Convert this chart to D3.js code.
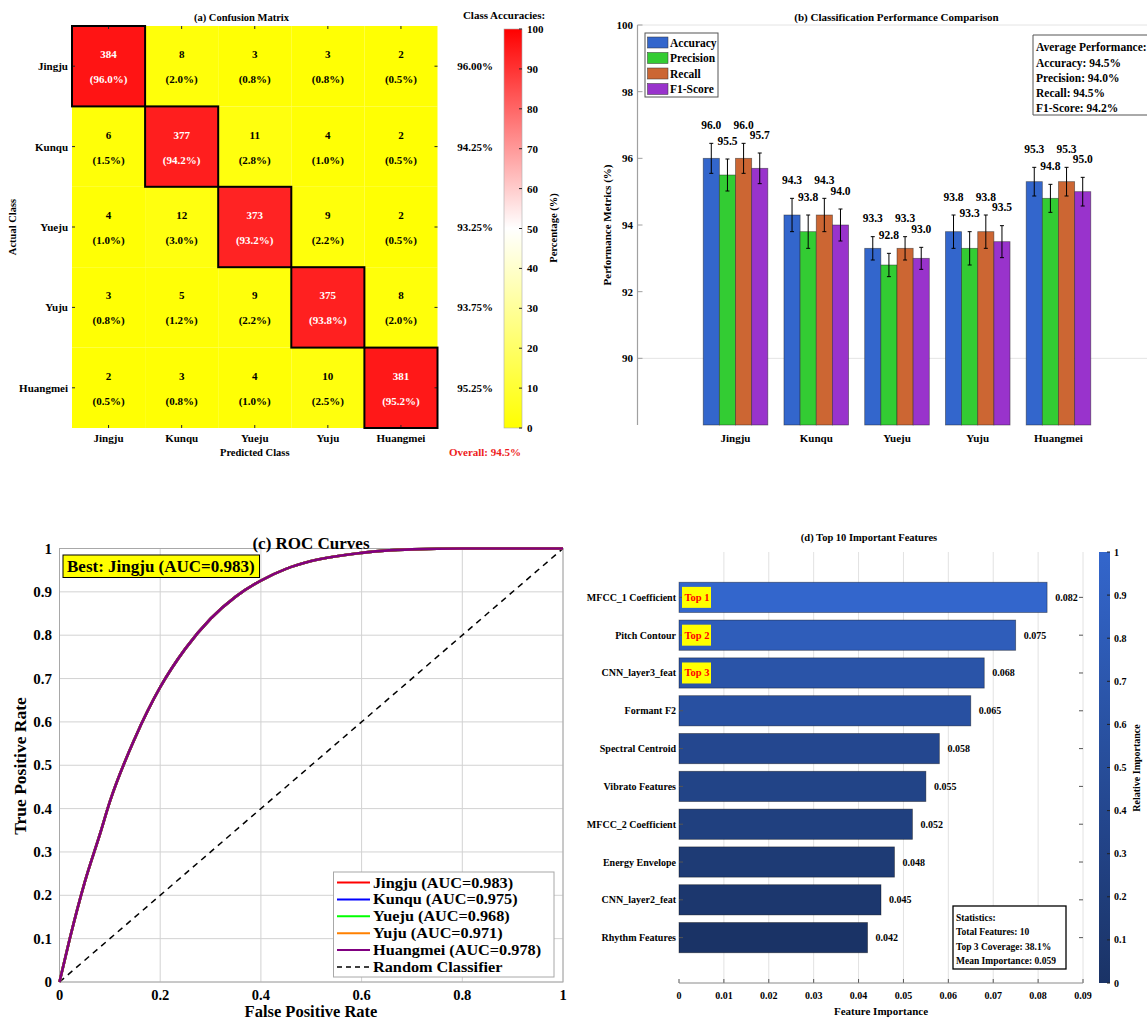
<!DOCTYPE html>
<html>
<head>
<meta charset="utf-8">
<script src="https://cdn.jsdelivr.net/npm/d3@7"></script>
<style>
  body { margin: 0; background: #fff; }
  svg text { font-family: "Liberation Serif", "Times New Roman", Times, serif; font-weight: bold; }
</style>
</head>
<body>
<svg id="chart" width="1147" height="1021"></svg>
<script>
// ---- data ----
const classes = ['Jingju', 'Kunqu', 'Yueju', 'Yuju', 'Huangmei'];

// (a) confusion matrix counts and row percentages
const confusionCounts = [
    [384, 8, 3, 3, 2],
    [6, 377, 11, 4, 2],
    [4, 12, 373, 9, 2],
    [3, 5, 9, 375, 8],
    [2, 3, 4, 10, 381]
];
const confusionPct = [
    [96.0, 2.0, 0.8, 0.8, 0.5],
    [1.5, 94.2, 2.8, 1.0, 0.5],
    [1.0, 3.0, 93.2, 2.2, 0.5],
    [0.8, 1.2, 2.2, 93.8, 2.0],
    [0.5, 0.8, 1.0, 2.5, 95.2]
];
const classAccuracies = [96.00, 94.25, 93.25, 93.75, 95.25];
const overallAccuracy = 94.5;
const colorbarTicks = [0, 10, 20, 30, 40, 50, 60, 70, 80, 90, 100];

// (b) per class metrics with error bars
const metricNames = ['Accuracy', 'Precision', 'Recall', 'F1-Score'];
const metricColors = ['#3366CC', '#33CC33', '#CC6633', '#9933CC'];
const accuracyVals = [96.0, 94.3, 93.3, 93.8, 95.3];
const precisionVals = [95.5, 93.8, 92.8, 93.3, 94.8];
const recallVals = [96.0, 94.3, 93.3, 93.8, 95.3];
const f1Vals = [95.7, 94.0, 93.0, 93.5, 95.0];
const accuracyErr = [0.45, 0.5, 0.35, 0.5, 0.43];
const precisionErr = [0.48, 0.5, 0.35, 0.5, 0.42];
const recallErr = [0.45, 0.5, 0.35, 0.5, 0.43];
const f1Err = [0.46, 0.48, 0.33, 0.48, 0.43];
const perfTicks = [90, 92, 94, 96, 98, 100];

// (c) ROC curves (all classes overlap almost exactly)
const aucValues = [0.983, 0.975, 0.968, 0.971, 0.978];
const rocColors = ['#FF0000', '#0000FF', '#00FF00', '#FF8000', '#800080'];
const rocFpr = [0, 0.02, 0.05, 0.08, 0.1, 0.15, 0.2, 0.25, 0.3, 0.35, 0.4, 0.45, 0.5, 0.6, 0.7, 0.8, 0.9, 1];
const rocTpr = [0, 0.098, 0.23, 0.34, 0.416, 0.563, 0.68, 0.769, 0.838, 0.889, 0.926, 0.953, 0.971, 0.99, 0.998, 1, 1, 1];

// (d) feature importance
const featureNames = ['MFCC_1 Coefficient', 'Pitch Contour', 'CNN_layer3_feat', 'Formant F2', 'Spectral Centroid',
    'Vibrato Features', 'MFCC_2 Coefficient', 'Energy Envelope', 'CNN_layer2_feat', 'Rhythm Features'];
const featureValues = [0.082, 0.075, 0.068, 0.065, 0.058, 0.055, 0.052, 0.048, 0.045, 0.042];
const importanceTicks = [0, 0.01, 0.02, 0.03, 0.04, 0.05, 0.06, 0.07, 0.08, 0.09];
const relTicks = [0, 0.1, 0.2, 0.3, 0.4, 0.5, 0.6, 0.7, 0.8, 0.9, 1];

const svg = d3.select('#chart');
const defs = svg.append('defs');

// small helper for text
function label(parent, x, y, str, size, anchor, fill) {
    return parent.append('text')
        .attr('x', x).attr('y', y)
        .attr('text-anchor', anchor || 'middle')
        .attr('dominant-baseline', 'central')
        .attr('font-size', size + 'px')
        .attr('fill', fill || '#000')
        .text(str);
}

function rotatedLabel(parent, x, y, str, size) {
    return parent.append('text')
        .attr('transform', `translate(${x},${y}) rotate(-90)`)
        .attr('text-anchor', 'middle')
        .attr('dominant-baseline', 'central')
        .attr('font-size', size + 'px')
        .text(str);
}

// ===== (a) Confusion Matrix =====
function drawConfusion() {
    const g = svg.append('g');
    const x = d3.scaleBand().domain(classes).range([72, 437.5]);
    const y = d3.scaleBand().domain(classes).range([26, 428]);
    const color = d3.scaleLinear().domain([0, 50, 100]).range(['#ffff00', '#ffffff', '#ff0000']);

    const cells = [];
    confusionCounts.forEach((row, i) => row.forEach((n, j) => {
        cells.push({ r: classes[i], c: classes[j], n: n, p: confusionPct[i][j], diag: i === j });
    }));

    g.selectAll('.cell').data(cells).join('rect')
        .attr('class', 'cell')
        .attr('x', d => x(d.c)).attr('y', d => y(d.r))
        .attr('width', x.bandwidth()).attr('height', y.bandwidth())
        .attr('fill', d => color(d.p));

    // inward ticks
    const tk = g.append('g').attr('stroke', '#262626').attr('stroke-width', 1);
    classes.forEach(c => {
        const cx = x(c) + x.bandwidth() / 2, cy = y(c) + y.bandwidth() / 2;
        tk.append('line').attr('x1', 72).attr('x2', 75).attr('y1', cy).attr('y2', cy);
        tk.append('line').attr('x1', 437.5).attr('x2', 434.5).attr('y1', cy).attr('y2', cy);
        tk.append('line').attr('x1', cx).attr('x2', cx).attr('y1', 428).attr('y2', 425);
        tk.append('line').attr('x1', cx).attr('x2', cx).attr('y1', 26).attr('y2', 29);
    });

    g.selectAll('.diag').data(cells.filter(d => d.diag)).join('rect')
        .attr('class', 'diag')
        .attr('x', d => x(d.c)).attr('y', d => y(d.r))
        .attr('width', x.bandwidth()).attr('height', y.bandwidth())
        .attr('fill', 'none').attr('stroke', '#000').attr('stroke-width', 2);

    cells.forEach(d => {
        const cx = x(d.c) + x.bandwidth() / 2, cy = y(d.r) + y.bandwidth() / 2;
        const fill = d.diag ? '#fff' : '#000';
        label(g, cx, cy - 12, d.n, 11, 'middle', fill);
        label(g, cx, cy + 13, `(${d.p.toFixed(1)}%)`, 11, 'middle', fill);
    });

    classes.forEach((c, i) => {
        label(g, x(c) + x.bandwidth() / 2, 438, c, 11);
        label(g, 68, y(c) + y.bandwidth() / 2, c, 11, 'end');
        label(g, 475, y(c) + y.bandwidth() / 2, classAccuracies[i].toFixed(2) + '%', 11);
    });

    label(g, 241.5, 17, '(a) Confusion Matrix', 10.5);
    label(g, 254.75, 452, 'Predicted Class', 10.5);
    rotatedLabel(g, 12, 227, 'Actual Class', 10.5);
    label(g, 504, 15, 'Class Accuracies:', 11);
    label(g, 485, 452, 'Overall: ' + overallAccuracy.toFixed(1) + '%', 11, 'middle', '#ee1c1c');

    // colorbar
    const cy = d3.scaleLinear().domain([0, 100]).range([428, 29]);
    const grad = defs.append('linearGradient').attr('id', 'cmA')
        .attr('x1', 0).attr('y1', 1).attr('x2', 0).attr('y2', 0);
    grad.selectAll('stop').data(d3.range(0, 101, 5)).join('stop')
        .attr('offset', d => d + '%').attr('stop-color', d => color(d));
    g.append('rect').attr('x', 504).attr('y', 29).attr('width', 18).attr('height', 399)
        .attr('fill', 'url(#cmA)').attr('stroke', '#aaa').attr('stroke-width', 0.6);
    colorbarTicks.forEach(t => {
        g.append('line').attr('x1', 522).attr('x2', 519).attr('y1', cy(t)).attr('y2', cy(t))
            .attr('stroke', '#262626');
        label(g, 527, cy(t), t, 11, 'start');
    });
    rotatedLabel(g, 553, 228, 'Percentage (%)', 10.5);
}

// ===== (b) Classification Performance =====
function drawPerformance() {
    const g = svg.append('g');
    const series = [
        { vals: accuracyVals, err: accuracyErr },
        { vals: precisionVals, err: precisionErr },
        { vals: recallVals, err: recallErr },
        { vals: f1Vals, err: f1Err }
    ];
    const x = d3.scaleLinear().domain([-0.214, 6.214]).range([637.5, 1156.5]);
    const y = d3.scaleLinear().domain([88, 100]).range([425, 25]);
    const barW = 0.2;

    [90, 100].forEach(v => {
        g.append('line').attr('x1', 637.5).attr('x2', 1147).attr('y1', y(v)).attr('y2', y(v))
            .attr('stroke', '#e4e4e4').attr('stroke-width', 1);
    });
    g.append('line').attr('x1', 637.5).attr('x2', 637.5).attr('y1', y(88)).attr('y2', y(100))
        .attr('stroke', '#a0a0a0').attr('stroke-width', 1.2);
    perfTicks.forEach(t => {
        g.append('line').attr('x1', 637.5).attr('x2', 642.5).attr('y1', y(t)).attr('y2', y(t))
            .attr('stroke', '#a0a0a0');
        label(g, 633, y(t), t, 11, 'end');
    });

    series.forEach((s, k) => {
        const data = s.vals.map((v, i) => ({ v: v, e: s.err[i], pos: i + 1 + (k - 1.5) * barW }));
        g.selectAll('.bar' + k).data(data).join('rect')
            .attr('x', d => x(d.pos - barW / 2)).attr('width', x(barW) - x(0))
            .attr('y', d => y(d.v)).attr('height', d => y(88) - y(d.v))
            .attr('fill', metricColors[k])
            .attr('stroke', '#222').attr('stroke-opacity', 0.55).attr('stroke-width', 0.8);
        data.forEach(d => {
            const cx = x(d.pos);
            g.append('line').attr('x1', cx).attr('x2', cx).attr('y1', y(d.v - d.e)).attr('y2', y(d.v + d.e))
                .attr('stroke', '#000').attr('stroke-width', 1);
            [d.v - d.e, d.v + d.e].forEach(ev => {
                g.append('line').attr('x1', cx - 2).attr('x2', cx + 2).attr('y1', y(ev)).attr('y2', y(ev))
                    .attr('stroke', '#000').attr('stroke-width', 1);
            });
            label(g, cx, y(d.v + d.e + 0.55), d.v.toFixed(1), 11.5);
        });
    });

    classes.forEach((c, i) => label(g, x(i + 1), 438, c, 11));
    label(g, 896.5, 17, '(b) Classification Performance Comparison', 11);
    rotatedLabel(g, 607, 225, 'Performance Metrics (%)', 11);

    // legend
    g.append('rect').attr('x', 645).attr('y', 33).attr('width', 73).attr('height', 64)
        .attr('fill', '#fff').attr('stroke', '#555').attr('stroke-width', 1);
    metricNames.forEach((m, k) => {
        const ly = 42.5 + k * 15.5;
        g.append('rect').attr('x', 647.5).attr('y', ly - 5.5).attr('width', 20.5).attr('height', 11)
            .attr('fill', metricColors[k]).attr('stroke', '#333').attr('stroke-width', 0.5);
        label(g, 670, ly, m, 11.5, 'start');
    });

    // average performance box
    const means = series.map(s => d3.mean(s.vals));
    g.append('path').attr('d', 'M1147,35 H1033 V115 H1147')
        .attr('fill', '#fff').attr('stroke', '#555').attr('stroke-width', 1);
    label(g, 1036, 47.3, 'Average Performance:', 11.5, 'start');
    metricNames.forEach((m, k) => {
        label(g, 1036, 62.5 + k * 15.2, `${m}: ${means[k].toFixed(1)}%`, 11.5, 'start');
    });
}

// ===== (c) ROC Curves =====
function drawROC() {
    const g = svg.append('g');
    const x = d3.scaleLinear().domain([0, 1]).range([59.5, 563]);
    const y = d3.scaleLinear().domain([0, 1]).range([982, 548.5]);
    const fmt = d => (d === 0 || d === 1) ? String(d) : d.toFixed(1);

    x.ticks(5).forEach(t => {
        g.append('line').attr('x1', x(t)).attr('x2', x(t)).attr('y1', y(0)).attr('y2', y(1))
            .attr('stroke', '#d2d2d2').attr('stroke-width', 1);
        label(g, x(t), 995, fmt(t), 14.5);
    });
    y.ticks(10).forEach(t => {
        g.append('line').attr('x1', x(0)).attr('x2', x(1)).attr('y1', y(t)).attr('y2', y(t))
            .attr('stroke', '#d2d2d2').attr('stroke-width', 1);
        label(g, 52, y(t), fmt(t), 15, 'end');
    });
    g.append('rect').attr('x', x(0)).attr('y', y(1)).attr('width', x(1) - x(0)).attr('height', y(0) - y(1))
        .attr('fill', 'none').attr('stroke', '#a8a8a8').attr('stroke-width', 1);

    const line = d3.line().x(d => x(d[0])).y(d => y(d[1])).curve(d3.curveMonotoneX);
    const pts = rocFpr.map((f, i) => [f, rocTpr[i]]);
    g.append('path').attr('d', line([[0, 0], [1, 1]]))
        .attr('fill', 'none').attr('stroke', '#000').attr('stroke-width', 1.5).attr('stroke-dasharray', '6,5');
    classes.forEach((c, i) => {
        g.append('path').attr('d', line(pts))
            .attr('fill', 'none').attr('stroke', rocColors[i]).attr('stroke-width', 2.6);
    });

    label(g, 311, 543, '(c) ROC Curves', 17);
    label(g, 311, 1011, 'False Positive Rate', 16.5);
    rotatedLabel(g, 20, 766, 'True Positive Rate', 17.5);

    // best class box
    const best = d3.maxIndex(aucValues);
    g.append('rect').attr('x', 63).attr('y', 555).attr('width', 196.5).attr('height', 22.5)
        .attr('fill', '#ffff00').attr('stroke', '#000').attr('stroke-width', 1);
    label(g, 67, 566.5, `Best: ${classes[best]} (AUC=${aucValues[best].toFixed(3)})`, 17, 'start');

    // legend
    g.append('rect').attr('x', 333.5).attr('y', 872).attr('width', 220.5).attr('height', 105)
        .attr('fill', '#fff').attr('stroke', '#a8a8a8').attr('stroke-width', 1);
    const entries = classes.map((c, i) => ({ t: `${c} (AUC=${aucValues[i].toFixed(3)})`, col: rocColors[i], dash: null }));
    entries.push({ t: 'Random Classifier', col: '#000', dash: '5,4' });
    entries.forEach((e, i) => {
        const ly = 882.5 + i * 16.9;
        g.append('line').attr('x1', 337).attr('x2', 370).attr('y1', ly).attr('y2', ly)
            .attr('stroke', e.col).attr('stroke-width', e.dash ? 1.5 : 2)
            .attr('stroke-dasharray', e.dash);
        label(g, 373, ly, e.t, 14.5, 'start')
            .attr('textLength', function () { return this.getComputedTextLength() * 1.12; })
            .attr('lengthAdjust', 'spacingAndGlyphs');
    });
}

// ===== (d) Feature Importance =====
function drawFeatures() {
    const g = svg.append('g');
    const x = d3.scaleLinear().domain([0, 0.09]).range([679, 1083]);
    const y = d3.scaleLinear().domain([-0.2, 11.2]).range([552, 983]);
    const vmin = d3.min(featureValues), vmax = d3.max(featureValues);
    const cmap = d3.scaleLinear().domain([0, 1]).range(['#1a3366', '#3366cc']);

    importanceTicks.forEach(t => {
        if (t > 0) {
            g.append('line').attr('x1', x(t)).attr('x2', x(t)).attr('y1', y(-0.2)).attr('y2', y(11.2))
                .attr('stroke', '#e2e2e2').attr('stroke-width', 1);
        }
        g.append('line').attr('x1', x(t)).attr('x2', x(t)).attr('y1', 983).attr('y2', 979)
            .attr('stroke', '#555');
        label(g, x(t), 995, t === 0 ? '0' : t.toFixed(2), 10);
    });
    g.append('line').attr('x1', 679).attr('x2', 1083).attr('y1', 983).attr('y2', 983)
        .attr('stroke', '#8a8a8a').attr('stroke-width', 1);

    const data = featureNames.map((n, i) => ({ n: n, v: featureValues[i], pos: i + 1 }));
    g.selectAll('.fbar').data(data).join('rect')
        .attr('class', 'fbar')
        .attr('x', x(0)).attr('y', d => y(d.pos - 0.4))
        .attr('width', d => x(d.v) - x(0)).attr('height', y(0.8) - y(0))
        .attr('fill', d => cmap((d.v - vmin) / (vmax - vmin)))
        .attr('stroke', '#000').attr('stroke-opacity', 0.45).attr('stroke-width', 0.8);

    data.forEach((d, i) => {
        const cy = y(d.pos);
        label(g, 676, cy, d.n, 10, 'end');
        label(g, x(d.v + 0.0018), cy, d.v.toFixed(3), 10, 'start');
        g.append('line').attr('x1', 679).attr('x2', 683).attr('y1', cy).attr('y2', cy).attr('stroke', '#555');
        g.append('line').attr('x1', 1083).attr('x2', 1079).attr('y1', cy).attr('y2', cy).attr('stroke', '#555');
        if (i < 3) {
            g.append('rect').attr('x', 682).attr('y', cy - 10.5).attr('width', 29).attr('height', 21)
                .attr('fill', '#ffff00');
            label(g, 684.5, cy, 'Top ' + (i + 1), 10.5, 'start', '#ff0000');
        }
    });

    label(g, 869, 537, '(d) Top 10 Important Features', 10.5);
    label(g, 881, 1011, 'Feature Importance', 11);

    // statistics box
    const top3 = d3.sum(featureValues.slice(0, 3)) / d3.sum(featureValues) * 100;
    g.append('rect').attr('x', 953).attr('y', 906).attr('width', 113).attr('height', 63)
        .attr('fill', '#fff').attr('stroke', '#000').attr('stroke-width', 1.3);
    const stats = ['Statistics:', `Total Features: ${featureValues.length}`,
        `Top 3 Coverage: ${top3.toFixed(1)}%`, `Mean Importance: ${d3.mean(featureValues).toFixed(3)}`];
    stats.forEach((s, i) => label(g, 956, 917.5 + i * 14.5, s, 9.5, 'start'));

    // colorbar
    const cy = d3.scaleLinear().domain([0, 1]).range([983, 552]);
    const grad = defs.append('linearGradient').attr('id', 'cmD')
        .attr('x1', 0).attr('y1', 1).attr('x2', 0).attr('y2', 0);
    grad.selectAll('stop').data(d3.range(0, 1.001, 0.1)).join('stop')
        .attr('offset', d => (d * 100) + '%').attr('stop-color', d => cmap(d));
    g.append('rect').attr('x', 1099).attr('y', 552).attr('width', 11).attr('height', 431)
        .attr('fill', 'url(#cmD)');
    relTicks.forEach(t => {
        g.append('line').attr('x1', 1110).attr('x2', 1107).attr('y1', cy(t)).attr('y2', cy(t)).attr('stroke', '#222');
        label(g, 1114, cy(t), t === 0 || t === 1 ? String(t) : t.toFixed(1), 10, 'start');
    });
    rotatedLabel(g, 1136, 768, 'Relative Importance', 10);
}

drawConfusion();
drawPerformance();
drawROC();
drawFeatures();
</script>
</body>
</html>
